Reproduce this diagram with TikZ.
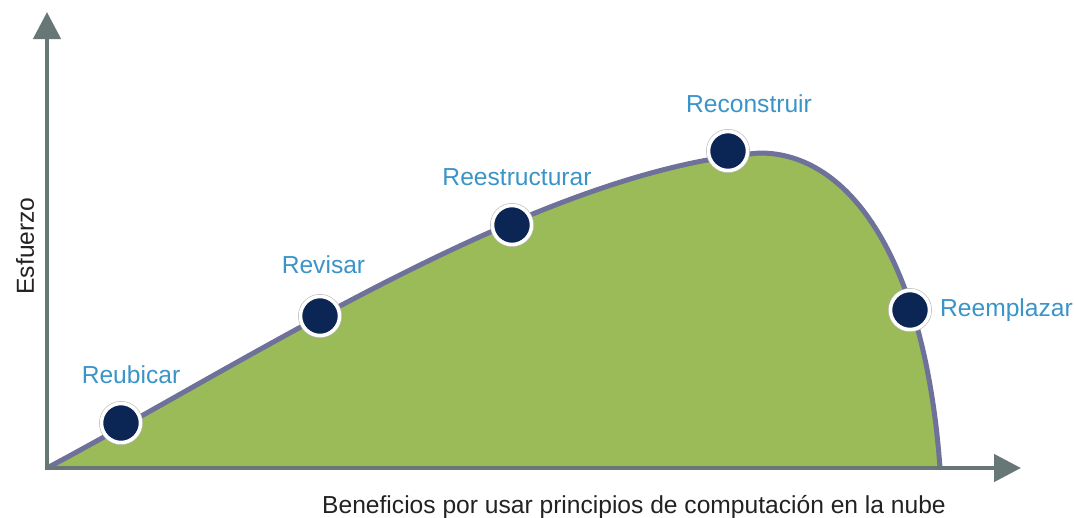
\documentclass[tikz,border=0pt]{standalone}
\usepackage{fontspec}
\setmainfont{Liberation Sans}
\usetikzlibrary{arrows.meta}
\definecolor{axisgray}{HTML}{677775}
\definecolor{curveline}{HTML}{6E7199}
\definecolor{fillgreen}{HTML}{9BBB59}
\definecolor{navy}{HTML}{0B2654}
\definecolor{labelblue}{HTML}{3A94C8}
\definecolor{textdark}{HTML}{222222}
\tikzset{
  axisline/.style={draw=axisgray, line width=4.5pt, -{Triangle[width=27pt,length=27pt]}},
  stage/.style={circle, fill=navy, draw=white, line width=3.5pt, minimum size=39pt, inner sep=0pt},
  stagering/.style={circle, fill=white, draw=gray!55, line width=0.8pt, minimum size=43pt, inner sep=0pt},
  stagelabel/.style={text=labelblue, font=\fontsize{24.6}{28}\selectfont, inner sep=0pt},
  axislabel/.style={text=textdark, font=\fontsize{24.6}{28}\selectfont, inner sep=0pt}
}
\begin{document}
\begin{tikzpicture}[x=1pt,y=-1pt]
\useasboundingbox (0,0) rectangle (1074,517);
% area under curve
\path[fill=fillgreen] (47,468) .. controls (250,360) and (540,170) .. (760,153)
  .. controls (850,153) and (925,260) .. (940,468) -- cycle;
\draw[curveline, line width=5pt] (47,468) .. controls (250,360) and (540,170) .. (760,153)
  .. controls (850,153) and (925,260) .. (940,468);
% axes
\coordinate (ytip) at (47,12);
\coordinate (xtip) at (1021,468);
\draw[axisline] (47,470.25) -- (ytip);
\draw[axisline] (44.75,468) -- (xtip);
% stages
\foreach \n/\x/\y in {1/121/423, 2/320/316, 3/512/225, 4/728/151, 5/910/310}{
  \node[stagering] (r\n) at (\x,\y) {};
  \node[stage] (d\n) at (\x,\y) {};
}
\node[stagelabel, anchor=base] (l1) at (131,383) {Reubicar};
\node[stagelabel, anchor=base] (l2) at (323.5,273) {Revisar};
\node[stagelabel, anchor=base] (l3) at (517,185) {Reestructurar};
\node[stagelabel, anchor=base] (l4) at (749,112) {Reconstruir};
\node[stagelabel, anchor=base west] (l5) at (940,316) {Reemplazar};
% axis labels
\node[axislabel, anchor=base] (xl) at (634,513) {Beneficios por usar principios de computación en la nube};
\node[axislabel, anchor=base, rotate=90] (yl) at (34,246) {Esfuerzo};
\end{tikzpicture}
\end{document}
